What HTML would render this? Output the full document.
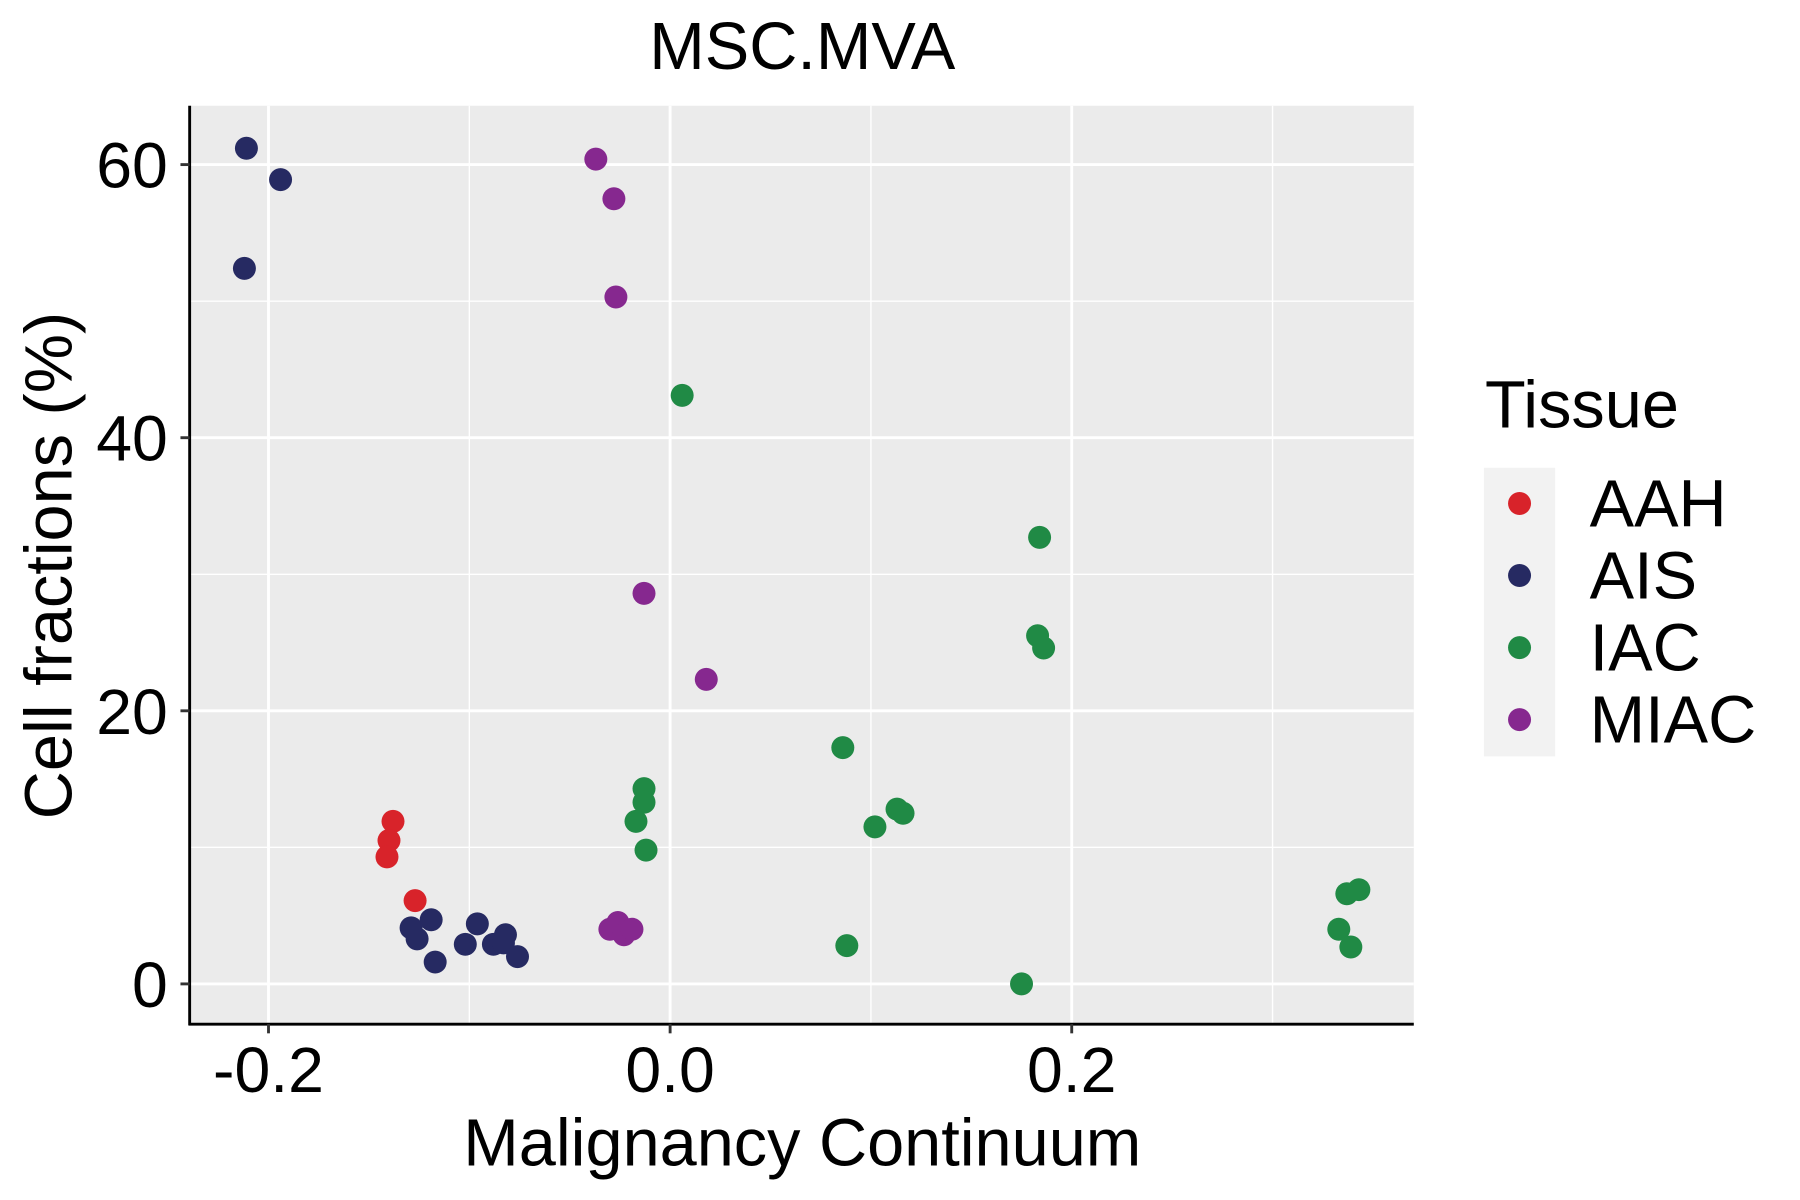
<!DOCTYPE html>
<html><head><meta charset="utf-8"><style>
html,body{margin:0;padding:0;background:#fff;}
svg{display:block;font-family:"Liberation Sans",Arial,sans-serif;}
</style></head><body>
<svg id="chart" width="1800" height="1200" viewBox="0 0 1566 1044" preserveAspectRatio="none" xmlns="http://www.w3.org/2000/svg">
<text x="698" y="60" font-size="58" text-anchor="middle">MSC.MVA</text>
<rect x="165" y="92" width="1065" height="799" fill="#ebebeb"/>
<g id="grid"></g>
<g id="points"></g>
<line x1="165" y1="92" x2="165" y2="892" stroke="#000" stroke-width="2.5"/>
<line x1="164" y1="891" x2="1230" y2="891" stroke="#000" stroke-width="2.5"/>
<g id="ticks"></g>
<text x="698" y="1014" font-size="58" text-anchor="middle">Malignancy Continuum</text>
<text transform="translate(62,492) rotate(-90)" font-size="58" text-anchor="middle">Cell fractions (%)</text>
<g>
<text x="1292" y="372" font-size="58">Tissue</text>
<rect x="1291" y="407" width="62" height="251" fill="#f2f2f2"/>
<g id="legend-entries"></g>
</g>
</svg>
<script>
const categories = ["AAH","AIS","IAC","MIAC"];
const colors = ["#d8232a","#262a62","#208a45","#86288f"];
const xTicks = [-0.2, 0.0, 0.2];
const xTickLabels = ["-0.2","0.0","0.2"];
const xMinor = [-0.1, 0.1, 0.3];
const yTicks = [0, 20, 40, 60];
const yMinor = [10, 30, 50];
const aahX = [-0.138,-0.140,-0.141,-0.127];
const aahY = [11.9,10.5,9.3,6.1];
const aisX = [-0.211,-0.194,-0.212,-0.129,-0.126,-0.119,-0.117,-0.102,-0.096,-0.088,-0.082,-0.083,-0.076];
const aisY = [61.2,58.9,52.4,4.1,3.3,4.7,1.6,2.9,4.4,2.9,3.6,3.0,2.0];
const iacX = [0.006,0.184,0.183,0.186,0.086,-0.013,-0.013,-0.017,-0.012,0.113,0.116,0.102,0.088,0.175,0.337,0.343,0.333,0.339];
const iacY = [43.1,32.7,25.5,24.6,17.3,14.3,13.3,11.9,9.8,12.8,12.5,11.5,2.8,0.0,6.6,6.9,4.0,2.7];
const miacX = [-0.037,-0.028,-0.027,-0.013,0.018,-0.030,-0.026,-0.023,-0.019];
const miacY = [60.4,57.5,50.3,28.6,22.3,4.0,4.5,3.6,4.0];
const seriesX = [aahX, aisX, iacX, miacX];
const seriesY = [aahY, aisY, iacY, miacY];

const NS = "http://www.w3.org/2000/svg";
function sx(v){ return 583 + v * 1747; }
function sy(v){ return 856 - v * 11.88; }
function mk(tag, attrs, parent){ const e=document.createElementNS(NS,tag); for(const k in attrs) e.setAttribute(k,attrs[k]); parent.appendChild(e); return e; }

const grid=document.getElementById('grid');
xMinor.forEach(v=>{ const l=mk('line',{x1:sx(v),x2:sx(v),y1:92,y2:891,stroke:'#fff','stroke-width':1.2},grid);

 });
yMinor.forEach(v=>{ const l=mk('line',{x1:165,x2:1230,y1:sy(v),y2:sy(v),stroke:'#fff','stroke-width':1.2},grid);

 });
xTicks.forEach(v=>{ const l=mk('line',{x1:sx(v),x2:sx(v),y1:92,y2:891,stroke:'#fff','stroke-width':2.5},grid);

 });
yTicks.forEach(v=>{ const l=mk('line',{x1:165,x2:1230,y1:sy(v),y2:sy(v),stroke:'#fff','stroke-width':2.5},grid);

 });

const ticks=document.getElementById('ticks');
xTicks.forEach((v,i)=>{ const t=mk('line',{x1:sx(v),x2:sx(v),y1:891,y2:899,stroke:'#333','stroke-width':2.5},ticks);


const tx=mk('text',{x:sx(v),y:950,'font-size':56,'text-anchor':'middle',fill:'#000'},ticks); tx.textContent=xTickLabels[i];

 });
yTicks.forEach(v=>{ const t=mk('line',{x1:157,x2:165,y1:sy(v),y2:sy(v),stroke:'#333','stroke-width':2.5},ticks);


const tx=mk('text',{x:146,y:sy(v)+20,'font-size':56,'text-anchor':'end',fill:'#000'},ticks); tx.textContent=String(v);

 });

const pts=document.getElementById('points');
seriesX.forEach((xs,si)=>{ xs.forEach((xv,i)=>{ const c=mk('circle',{cx:sx(xv),cy:sy(seriesY[si][i]),r:10,fill:colors[si]},pts);

 }); });

const leg=document.getElementById('legend-entries');
categories.forEach((c,i)=>{ const y=438+i*62.7;
const d=mk('circle',{cx:1322,cy:y,r:10,fill:colors[i]},leg);


const t=mk('text',{x:1383,y:y+20,'font-size':58},leg); t.textContent=c;

 });
</script>
</body></html>
